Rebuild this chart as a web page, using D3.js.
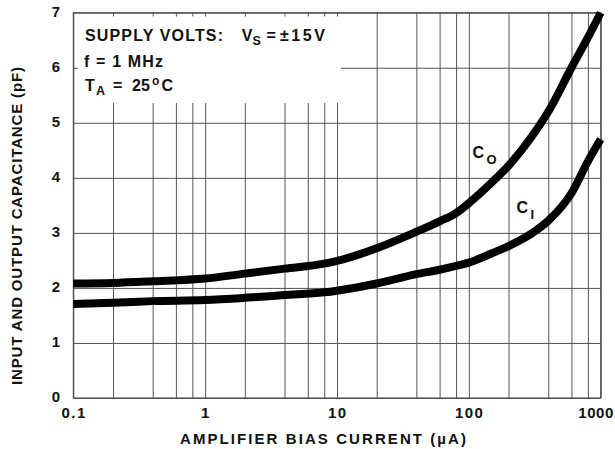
<!DOCTYPE html>
<html><head><meta charset="utf-8">
<script src="https://cdn.jsdelivr.net/npm/d3@7"></script>
<style>
body{margin:0;background:#fff}
text{font-family:"Liberation Sans",Arial,Helvetica,sans-serif;font-weight:bold;fill:#111}
</style>
</head><body><svg id="c" width="615" height="449"></svg>
<script>
// ---- data ----
const biasCurrent = [0.1, 0.2, 0.4, 1, 2, 4, 8, 10, 20, 40, 60, 80, 100, 150, 200, 300, 400, 600, 800, 1000];
const coValues    = [2.08, 2.09, 2.12, 2.17, 2.26, 2.35, 2.44, 2.49, 2.72, 3.02, 3.21, 3.36, 3.54, 3.92, 4.22, 4.75, 5.2, 6.0, 6.55, 7.0];
const ciValues    = [1.71, 1.73, 1.76, 1.78, 1.82, 1.87, 1.92, 1.95, 2.08, 2.25, 2.33, 2.40, 2.46, 2.63, 2.76, 2.99, 3.22, 3.72, 4.3, 4.7];
const xTickValues = [0.1, 1, 10, 100, 1000];
const xTickLabels = ["0.1", "1", "10", "100", "1000"];
const xGridValues = [0.1,0.2,0.4,0.6,0.8,1,2,4,6,8,10,20,40,60,80,100,200,400,600,800,1000];
const yTickValues = [0, 1, 2, 3, 4, 5, 6, 7];
const yTickLabels = ["0", "1", "2", "3", "4", "5", "6", "7"];
const xTitle = "AMPLIFIER BIAS CURRENT (\u00B5A)";
const yTitle = "INPUT AND OUTPUT CAPACITANCE (pF)";

// ---- layout ----
const L = 73.3, R = 600.7, T = 12.7, B = 398;
const svg = d3.select("#c");
const x = d3.scaleLog().domain([0.1, 1000]).range([L, R]);
const y = d3.scaleLinear().domain([0, 7]).range([B, T]);

// grid
const gx = svg.append("g").attr("transform", `translate(0,${B})`)
  .call(d3.axisBottom(x).tickValues(xGridValues).tickSize(-(B - T)).tickFormat(""));
gx.select(".domain").remove();
gx.selectAll("line").attr("stroke", "#555").attr("stroke-width", 1);

const gy = svg.append("g").attr("transform", `translate(${L},0)`)
  .call(d3.axisLeft(y).tickValues(yTickValues).tickSize(-(R - L)).tickFormat(""));
gy.select(".domain").remove();
gy.selectAll("line").attr("stroke", "#555").attr("stroke-width", 1);

// white legend box
svg.append("rect").attr("x", 78).attr("y", 16.5).attr("width", 263).attr("height", 86.5).attr("fill", "#fff");

// frame
svg.append("rect").attr("x", L).attr("y", T).attr("width", R - L).attr("height", B - T)
  .attr("fill", "none").attr("stroke", "#444").attr("stroke-width", 1);

// curves
const line = d3.line().x(d => x(d[0])).y(d => y(d[1])).curve(d3.curveMonotoneX);
[coValues, ciValues].forEach(vals => {
  svg.append("path").datum(biasCurrent.map((b, i) => [b, vals[i]]))
    .attr("d", line).attr("fill", "none").attr("stroke", "#000")
    .attr("stroke-width", 8).attr("stroke-linejoin", "round").attr("stroke-linecap", "butt");
});

// tick labels
const tx = svg.append("g");
xTickValues.forEach((v, i) => {
  const last = i === xTickValues.length - 1;
  tx.append("text").attr("x", last ? 614 : x(v) + 0.8).attr("y", 418)
    .attr("text-anchor", last ? "end" : "middle")
    .attr("font-size", 15).attr("letter-spacing", last ? 0.6 : 1.5).text(xTickLabels[i]);
});
yTickValues.forEach((v, i) => {
  tx.append("text").attr("x", 60).attr("y", y(v) + 4).attr("text-anchor", "end")
    .attr("font-size", 15).text(yTickLabels[i]);
});

// axis titles
svg.append("text").attr("x", 180).attr("y", 443.5)
  .attr("font-size", 15).attr("textLength", 286).attr("lengthAdjust", "spacing").text(xTitle);
svg.append("text").attr("transform", "translate(22,385) rotate(-90)")
  .attr("font-size", 15).attr("textLength", 318).attr("lengthAdjust", "spacing").text(yTitle);

// legend
const lg = svg.append("g");
lg.append("text").attr("x", 85).attr("y", 40.5).attr("font-size", 16)
  .attr("textLength", 138).attr("lengthAdjust", "spacing").text("SUPPLY VOLTS:");
lg.append("text").attr("x", 241.7).attr("y", 40.5).attr("font-size", 16).text("V");
lg.append("text").attr("x", 252.5).attr("y", 44.5).attr("font-size", 12.5).text("S");
lg.append("text").attr("x", 266.5).attr("y", 40.5).attr("font-size", 16).text("=");
lg.append("text").attr("x", 280).attr("y", 40.5).attr("font-size", 16)
  .attr("textLength", 45).attr("lengthAdjust", "spacing").text("\u00B115V");
lg.append("text").attr("x", 84).attr("y", 66.5).attr("font-size", 16)
  .attr("textLength", 79).attr("lengthAdjust", "spacing").text("f = 1 MHz");
lg.append("text").attr("x", 85).attr("y", 90.5).attr("font-size", 16).text("T");
lg.append("text").attr("x", 96).attr("y", 95).attr("font-size", 12.5).text("A");
lg.append("text").attr("x", 113).attr("y", 90.5).attr("font-size", 16).text("=");
lg.append("text").attr("x", 132).attr("y", 90.5).attr("font-size", 16)
  .attr("textLength", 18).attr("lengthAdjust", "spacing").text("25");
lg.append("text").attr("x", 152).attr("y", 85).attr("font-size", 12).text("o");
lg.append("text").attr("x", 161.5).attr("y", 90.5).attr("font-size", 16).text("C");

// curve labels
svg.append("text").attr("x", 472.5).attr("y", 158).attr("font-size", 16).text("C");
svg.append("text").attr("x", 486.5).attr("y", 163.5).attr("font-size", 13).text("O");
svg.append("text").attr("x", 516.5).attr("y", 213).attr("font-size", 16).text("C");
svg.append("text").attr("x", 530.5).attr("y", 219).attr("font-size", 13).text("I");
</script>
</body></html>
